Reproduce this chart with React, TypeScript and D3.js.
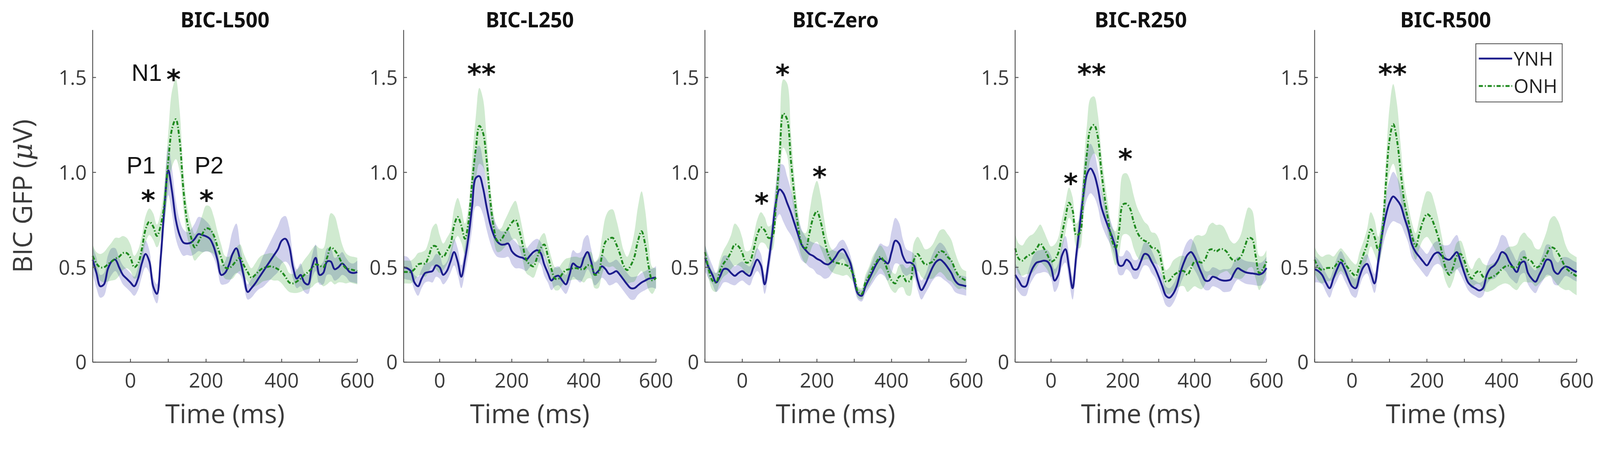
import { useEffect } from 'react'
import * as d3 from 'd3'

// ─── Data ─────────────────────────────────────────────────────────────────────

// sampling grid of the averaged GFP traces (ms)
const TIME = d3.range(-100, 601, 10)

const TITLES = ['BIC-L500', 'BIC-L250', 'BIC-Zero', 'BIC-R250', 'BIC-R500']
const GROUPS = ['YNH', 'ONH']
const Y_TICKS = [0, 0.5, 1.0, 1.5]
const X_TICKS = [0, 200, 400, 600]
const X_MINOR = [-100, 0, 100, 200, 300, 400, 500, 600]

const L500_YNH = [
  0.54, 0.47, 0.40, 0.41, 0.49, 0.53, 0.54, 0.50, 0.46, 0.44,
  0.42, 0.40, 0.44, 0.52, 0.57, 0.53, 0.40, 0.36, 0.55, 0.82,
  1.01, 0.90, 0.75, 0.67, 0.63, 0.625, 0.63, 0.65, 0.675, 0.67,
  0.663, 0.65, 0.61, 0.54, 0.46, 0.47, 0.51, 0.57, 0.60, 0.54,
  0.45, 0.37, 0.39, 0.415, 0.445, 0.475, 0.505, 0.535, 0.565, 0.595,
  0.64, 0.65, 0.61, 0.50, 0.44, 0.46, 0.42, 0.41, 0.50, 0.55,
  0.46, 0.47, 0.53, 0.53, 0.49, 0.50, 0.52, 0.50, 0.475, 0.47,
  0.475,
]
const L500_YNH_SEM = [
  0.07, 0.08, 0.06, 0.06, 0.07,
  0.07, 0.06, 0.05, 0.05, 0.05, 0.05,
  0.05, 0.06, 0.07, 0.07, 0.06, 0.05,
  0.05, 0.07, 0.1, 0.13, 0.12, 0.1, 0.08, 0.07, 0.06,
  0.07, 0.08, 0.09, 0.09, 0.08, 0.07, 0.06, 0.05, 0.05,
  0.06, 0.09, 0.12, 0.13, 0.08, 0.05, 0.04, 0.05, 0.05,
  0.06, 0.08, 0.09, 0.1, 0.11, 0.12, 0.12, 0.12, 0.1,
  0.06, 0.05, 0.06, 0.05, 0.05, 0.06, 0.07, 0.05, 0.06,
  0.07, 0.07, 0.06, 0.06, 0.06, 0.05, 0.05, 0.05, 0.06,
]
const L500_ONH = [
  0.56, 0.52, 0.50, 0.50, 0.515, 0.53, 0.545, 0.555, 0.575, 0.575,
  0.55, 0.50, 0.52, 0.595, 0.70, 0.74, 0.715, 0.665, 0.72, 0.84,
  1.06, 1.23, 1.28, 1.17, 0.91, 0.74, 0.66, 0.605, 0.635, 0.675,
  0.705, 0.70, 0.67, 0.61, 0.55, 0.50, 0.495, 0.51, 0.535, 0.55,
  0.51, 0.475, 0.445, 0.46, 0.48, 0.495, 0.50, 0.505, 0.50, 0.49,
  0.475, 0.45, 0.42, 0.415, 0.425, 0.44, 0.46, 0.475, 0.495, 0.515,
  0.51, 0.50, 0.55, 0.605, 0.59, 0.56, 0.52, 0.495, 0.49, 0.485,
  0.48,
]
const L500_ONH_SEM = [
  0.06, 0.06, 0.07, 0.08, 0.09,
  0.1, 0.11, 0.1, 0.09, 0.08, 0.07,
  0.06, 0.07, 0.07, 0.07, 0.07, 0.07,
  0.06, 0.07, 0.1, 0.15, 0.2, 0.21, 0.16, 0.1, 0.08,
  0.07, 0.07, 0.08, 0.1, 0.12, 0.12, 0.1, 0.08, 0.07,
  0.06, 0.06, 0.07, 0.07, 0.07, 0.06, 0.05, 0.05, 0.06,
  0.07, 0.07, 0.07, 0.07, 0.07, 0.06, 0.06, 0.06, 0.05,
  0.05, 0.06, 0.07, 0.08, 0.09, 0.1, 0.1, 0.09, 0.1,
  0.14, 0.18, 0.18, 0.14, 0.1, 0.08, 0.07, 0.07, 0.07,
]

const L250_YNH = [
  0.50, 0.495, 0.48, 0.42, 0.40, 0.44, 0.47, 0.475, 0.48, 0.51,
  0.50, 0.46, 0.48, 0.53, 0.58, 0.53, 0.45, 0.54, 0.66, 0.82,
  0.97, 0.98, 0.92, 0.82, 0.73, 0.67, 0.635, 0.62, 0.62, 0.625,
  0.585, 0.565, 0.555, 0.55, 0.54, 0.56, 0.58, 0.59, 0.575, 0.515,
  0.47, 0.43, 0.45, 0.455, 0.43, 0.41, 0.46, 0.52, 0.505, 0.50,
  0.55, 0.58, 0.53, 0.465, 0.48, 0.505, 0.49, 0.465, 0.47, 0.48,
  0.46, 0.435, 0.41, 0.39, 0.39, 0.405, 0.42, 0.43, 0.44, 0.443,
  0.446,
]
const L250_YNH_SEM = [
  0.06, 0.06, 0.05, 0.04, 0.05,
  0.05, 0.05, 0.05, 0.06, 0.06, 0.06,
  0.05, 0.05, 0.06, 0.07, 0.07, 0.06,
  0.07, 0.09, 0.12, 0.15, 0.16, 0.14, 0.12, 0.1, 0.09,
  0.08, 0.07, 0.07, 0.07, 0.07, 0.07, 0.06, 0.06, 0.06,
  0.06, 0.06, 0.06, 0.06, 0.06, 0.05, 0.05, 0.05, 0.05,
  0.05, 0.05, 0.06, 0.07, 0.07, 0.08, 0.1, 0.09, 0.07,
  0.06, 0.06, 0.06, 0.06, 0.06, 0.06, 0.06, 0.06, 0.06,
  0.06, 0.06, 0.06, 0.05, 0.05, 0.05, 0.05, 0.05, 0.06,
]
const L250_ONH = [
  0.475, 0.475, 0.475, 0.49, 0.515, 0.52, 0.52, 0.56, 0.61, 0.61,
  0.57, 0.555, 0.585, 0.62, 0.72, 0.765, 0.72, 0.65, 0.74, 0.95,
  1.12, 1.245, 1.21, 1.07, 0.86, 0.71, 0.64, 0.645, 0.675, 0.705,
  0.735, 0.75, 0.70, 0.62, 0.54, 0.515, 0.505, 0.55, 0.60, 0.62,
  0.56, 0.49, 0.44, 0.44, 0.465, 0.485, 0.49, 0.495, 0.495, 0.49,
  0.49, 0.51, 0.51, 0.46, 0.47, 0.56, 0.635, 0.65, 0.655, 0.62,
  0.57, 0.51, 0.485, 0.51, 0.555, 0.64, 0.69, 0.62, 0.50, 0.43,
  0.445,
]
const L250_ONH_SEM = [
  0.06, 0.06, 0.06, 0.06, 0.06,
  0.06, 0.07, 0.08, 0.1, 0.12, 0.1,
  0.07, 0.07, 0.07, 0.09, 0.1, 0.09,
  0.08, 0.08, 0.12, 0.17, 0.2, 0.18, 0.12, 0.08, 0.07,
  0.06, 0.06, 0.07, 0.08, 0.09, 0.1, 0.09, 0.08, 0.07,
  0.06, 0.06, 0.06, 0.06, 0.06, 0.06, 0.06, 0.06, 0.06,
  0.06, 0.06, 0.06, 0.06, 0.06, 0.06, 0.07, 0.07, 0.07,
  0.07, 0.08, 0.1, 0.13, 0.15, 0.15, 0.13, 0.1, 0.08,
  0.07, 0.09, 0.13, 0.18, 0.21, 0.18, 0.12, 0.07, 0.05,
]

const ZERO_YNH = [
  0.55, 0.50, 0.46, 0.42, 0.45, 0.49, 0.49, 0.47, 0.455, 0.47,
  0.48, 0.465, 0.455, 0.50, 0.54, 0.51, 0.41, 0.52, 0.67, 0.84,
  0.91, 0.89, 0.84, 0.79, 0.73, 0.67, 0.615, 0.59, 0.57, 0.56,
  0.545, 0.535, 0.52, 0.515, 0.53, 0.555, 0.585, 0.595, 0.565, 0.52,
  0.43, 0.36, 0.35, 0.40, 0.44, 0.48, 0.52, 0.545, 0.535, 0.52,
  0.58, 0.64, 0.625, 0.56, 0.525, 0.525, 0.51, 0.43, 0.38, 0.41,
  0.455, 0.50, 0.53, 0.54, 0.525, 0.50, 0.47, 0.43, 0.41, 0.405,
  0.40,
]
const ZERO_YNH_SEM = [
  0.07, 0.06, 0.05, 0.05, 0.06,
  0.07, 0.07, 0.06, 0.05, 0.05, 0.05,
  0.05, 0.05, 0.05, 0.06, 0.06, 0.05,
  0.06, 0.08, 0.1, 0.13, 0.15, 0.14, 0.12, 0.1, 0.09,
  0.08, 0.07, 0.07, 0.07, 0.08, 0.08, 0.08, 0.07, 0.06,
  0.05, 0.05, 0.05, 0.05, 0.04, 0.04, 0.03, 0.03, 0.04,
  0.05, 0.06, 0.07, 0.08, 0.08, 0.09, 0.11, 0.12, 0.11,
  0.09, 0.07, 0.06, 0.06, 0.05, 0.05, 0.05, 0.06, 0.07,
  0.08, 0.09, 0.09, 0.08, 0.07, 0.06, 0.05, 0.05, 0.05,
]
const ZERO_ONH = [
  0.58, 0.49, 0.43, 0.42, 0.48, 0.52, 0.545, 0.58, 0.62, 0.61,
  0.575, 0.525, 0.53, 0.59, 0.67, 0.71, 0.695, 0.655, 0.66, 0.83,
  1.08, 1.31, 1.28, 1.07, 0.87, 0.71, 0.62, 0.60, 0.68, 0.76,
  0.795, 0.74, 0.65, 0.57, 0.535, 0.525, 0.52, 0.515, 0.51, 0.49,
  0.45, 0.37, 0.36, 0.42, 0.455, 0.50, 0.53, 0.555, 0.53, 0.48,
  0.43, 0.415, 0.45, 0.455, 0.425, 0.43, 0.54, 0.57, 0.54, 0.515,
  0.52, 0.53, 0.56, 0.585, 0.58, 0.555, 0.535, 0.49, 0.455, 0.44,
  0.43,
]
const ZERO_ONH_SEM = [
  0.05, 0.05, 0.05, 0.05, 0.06,
  0.07, 0.08, 0.09, 0.11, 0.1, 0.08,
  0.06, 0.06, 0.07, 0.08, 0.08, 0.07,
  0.06, 0.07, 0.09, 0.13, 0.18, 0.19, 0.15, 0.1, 0.08,
  0.07, 0.08, 0.11, 0.14, 0.16, 0.14, 0.1, 0.07, 0.06,
  0.06, 0.06, 0.06, 0.05, 0.05, 0.04, 0.03, 0.03, 0.04,
  0.05, 0.06, 0.06, 0.06, 0.06, 0.06, 0.05, 0.05, 0.06,
  0.06, 0.07, 0.08, 0.09, 0.09, 0.09, 0.08, 0.08, 0.09,
  0.1, 0.11, 0.12, 0.12, 0.11, 0.09, 0.07, 0.05, 0.05,
]

const R250_YNH = [
  0.46, 0.43, 0.40, 0.40, 0.455, 0.50, 0.525, 0.53, 0.535, 0.53,
  0.50, 0.43, 0.46, 0.56, 0.595, 0.50, 0.39, 0.56, 0.72, 0.88,
  0.99, 1.02, 0.99, 0.92, 0.82, 0.76, 0.71, 0.66, 0.60, 0.51,
  0.51, 0.54, 0.525, 0.49, 0.49, 0.53, 0.57, 0.565, 0.53, 0.495,
  0.45, 0.40, 0.35, 0.34, 0.36, 0.40, 0.47, 0.525, 0.565, 0.58,
  0.555, 0.51, 0.465, 0.43, 0.43, 0.45, 0.445, 0.435, 0.43, 0.43,
  0.435, 0.47, 0.495, 0.485, 0.475, 0.47, 0.468, 0.465, 0.462, 0.47,
  0.496,
]
const R250_YNH_SEM = [
  0.06, 0.06, 0.05, 0.05, 0.05,
  0.06, 0.06, 0.06, 0.06, 0.06, 0.06,
  0.06, 0.06, 0.06, 0.07, 0.07, 0.06,
  0.07, 0.09, 0.11, 0.13, 0.13, 0.12, 0.1, 0.09, 0.08,
  0.07, 0.06, 0.06, 0.05, 0.05, 0.05, 0.05, 0.05, 0.05,
  0.05, 0.06, 0.06, 0.06, 0.05, 0.05, 0.05, 0.05, 0.05,
  0.05, 0.05, 0.06, 0.07, 0.07, 0.07, 0.07, 0.06, 0.06,
  0.05, 0.05, 0.05, 0.05, 0.05, 0.06, 0.06, 0.06, 0.06,
  0.06, 0.06, 0.06, 0.06, 0.06, 0.06, 0.06, 0.06, 0.06,
]
const R250_ONH = [
  0.60, 0.545, 0.535, 0.553, 0.565, 0.575, 0.60, 0.625, 0.60, 0.565,
  0.53, 0.54, 0.575, 0.67, 0.76, 0.84, 0.80, 0.67, 0.68, 0.90,
  1.10, 1.23, 1.25, 1.19, 1.01, 0.86, 0.74, 0.64, 0.60, 0.70,
  0.83, 0.835, 0.81, 0.74, 0.685, 0.655, 0.64, 0.632, 0.605, 0.60,
  0.58, 0.50, 0.425, 0.43, 0.455, 0.47, 0.48, 0.48, 0.46, 0.495,
  0.53, 0.53, 0.525, 0.545, 0.59, 0.595, 0.583, 0.595, 0.595, 0.58,
  0.55, 0.535, 0.54, 0.56, 0.61, 0.655, 0.65, 0.56, 0.47, 0.49,
  0.53,
]
const R250_ONH_SEM = [
  0.08, 0.08, 0.08, 0.09, 0.1,
  0.1, 0.1, 0.1, 0.09, 0.08, 0.08,
  0.08, 0.08, 0.08, 0.08, 0.08, 0.07,
  0.06, 0.08, 0.12, 0.15, 0.16, 0.15, 0.12, 0.1, 0.09,
  0.08, 0.07, 0.09, 0.13, 0.16, 0.16, 0.15, 0.14, 0.13,
  0.12, 0.1, 0.09, 0.08, 0.08, 0.07, 0.06, 0.06, 0.07,
  0.08, 0.08, 0.08, 0.08, 0.09, 0.11, 0.13, 0.14, 0.14,
  0.13, 0.13, 0.14, 0.14, 0.13, 0.12, 0.1, 0.09, 0.09,
  0.1, 0.12, 0.15, 0.16, 0.15, 0.12, 0.09, 0.07, 0.06,
]

const R500_YNH = [
  0.49, 0.48, 0.46, 0.42, 0.39, 0.44, 0.49, 0.525, 0.49, 0.44,
  0.40, 0.39, 0.45, 0.50, 0.518, 0.47, 0.415, 0.53, 0.67, 0.77,
  0.84, 0.873, 0.855, 0.825, 0.76, 0.70, 0.62, 0.58, 0.555, 0.53,
  0.51, 0.54, 0.57, 0.578, 0.56, 0.545, 0.54, 0.56, 0.58, 0.53,
  0.47, 0.42, 0.40, 0.388, 0.378, 0.39, 0.46, 0.495, 0.51, 0.54,
  0.58, 0.57, 0.53, 0.50, 0.475, 0.52, 0.53, 0.47, 0.44, 0.424,
  0.46, 0.50, 0.54, 0.535, 0.48, 0.465, 0.49, 0.504, 0.498, 0.485,
  0.475,
]
const R500_YNH_SEM = [
  0.07, 0.06, 0.05, 0.05, 0.05,
  0.05, 0.06, 0.06, 0.06, 0.05, 0.05,
  0.05, 0.05, 0.05, 0.05, 0.05, 0.05,
  0.06, 0.08, 0.1, 0.12, 0.13, 0.12, 0.1, 0.08, 0.07,
  0.07, 0.06, 0.06, 0.06, 0.06, 0.06, 0.06, 0.06, 0.06,
  0.07, 0.08, 0.09, 0.09, 0.07, 0.05, 0.04, 0.04, 0.04,
  0.04, 0.04, 0.05, 0.06, 0.07, 0.08, 0.09, 0.09, 0.08,
  0.07, 0.06, 0.06, 0.06, 0.06, 0.06, 0.06, 0.06, 0.07,
  0.08, 0.08, 0.07, 0.06, 0.06, 0.05, 0.05, 0.05, 0.05,
]
const R500_ONH = [
  0.54, 0.50, 0.485, 0.495, 0.497, 0.497, 0.52, 0.54, 0.52, 0.495,
  0.47, 0.455, 0.51, 0.565, 0.62, 0.70, 0.66, 0.59, 0.68, 0.93,
  1.17, 1.255, 1.17, 1.00, 0.84, 0.75, 0.665, 0.61, 0.68, 0.745,
  0.78, 0.765, 0.72, 0.66, 0.58, 0.495, 0.46, 0.50, 0.56, 0.57,
  0.535, 0.47, 0.44, 0.47, 0.48, 0.45, 0.44, 0.445, 0.455, 0.47,
  0.49, 0.505, 0.508, 0.50, 0.50, 0.535, 0.553, 0.54, 0.53, 0.50,
  0.505, 0.535, 0.57, 0.605, 0.60, 0.575, 0.54, 0.50, 0.48, 0.465,
  0.453,
]
const R500_ONH_SEM = [
  0.07, 0.07, 0.07, 0.07, 0.07,
  0.06, 0.06, 0.06, 0.06, 0.06, 0.06,
  0.06, 0.07, 0.07, 0.08, 0.09, 0.09,
  0.07, 0.08, 0.12, 0.17, 0.21, 0.19, 0.14, 0.1, 0.08,
  0.07, 0.07, 0.08, 0.1, 0.12, 0.13, 0.12, 0.1, 0.08,
  0.07, 0.07, 0.07, 0.07, 0.07, 0.06, 0.05, 0.05, 0.06,
  0.07, 0.07, 0.07, 0.07, 0.07, 0.07, 0.08, 0.09, 0.1,
  0.11, 0.12, 0.13, 0.13, 0.12, 0.11, 0.1, 0.09, 0.1,
  0.12, 0.15, 0.17, 0.17, 0.15, 0.12, 0.1, 0.1, 0.1,
]

const PANELS = [
  { title: TITLES[0], ynh: L500_YNH, ynhSem: L500_YNH_SEM, onh: L500_ONH, onhSem: L500_ONH_SEM },
  { title: TITLES[1], ynh: L250_YNH, ynhSem: L250_YNH_SEM, onh: L250_ONH, onhSem: L250_ONH_SEM },
  { title: TITLES[2], ynh: ZERO_YNH, ynhSem: ZERO_YNH_SEM, onh: ZERO_ONH, onhSem: ZERO_ONH_SEM },
  { title: TITLES[3], ynh: R250_YNH, ynhSem: R250_YNH_SEM, onh: R250_ONH, onhSem: R250_ONH_SEM },
  { title: TITLES[4], ynh: R500_YNH, ynhSem: R500_YNH_SEM, onh: R500_ONH, onhSem: R500_ONH_SEM },
]

// component labels and significance stars, anchored in data units (ms, µV)
const MARKS: { panel: number; text: string; t: number; v: number; star: boolean }[] = [
  { panel: 0, text: 'N1', t: 43, v: 1.527, star: false },
  { panel: 0, text: '*', t: 114, v: 1.523, star: true },
  { panel: 0, text: 'P1', t: 28, v: 1.04, star: false },
  { panel: 0, text: '*', t: 47, v: 0.887, star: true },
  { panel: 0, text: 'P2', t: 208, v: 1.04, star: false },
  { panel: 0, text: '*', t: 201, v: 0.887, star: true },
  { panel: 1, text: '**', t: 116, v: 1.553, star: true },
  { panel: 2, text: '*', t: 108, v: 1.55, star: true },
  { panel: 2, text: '*', t: 52, v: 0.873, star: true },
  { panel: 2, text: '*', t: 207, v: 1.01, star: true },
  { panel: 3, text: '**', t: 113, v: 1.553, star: true },
  { panel: 3, text: '*', t: 55, v: 0.975, star: true },
  { panel: 3, text: '*', t: 207, v: 1.105, star: true },
  { panel: 4, text: '**', t: 108, v: 1.553, star: true },
]

// ─── Layout ───────────────────────────────────────────────────────────────────

const W = 4317
const H = 1162
const PANEL_X: [number, number][] = [[250, 964], [1089, 1770], [1902, 2607], [2739, 3417], [3547, 4254]]
const TITLE_W = [240, 238, 233, 249, 245]
const TOP = 81
const BOTTOM = 977
const FONT = "'Open Sans', 'DejaVu Sans', sans-serif"
const BOLD_FONT = "'Noto Sans', 'DejaVu Sans', sans-serif"
const AXIS = '#555555'
const TEXT = '#3a3a3a'
const BLUE = '#1c1c8c'
const GREEN = '#1f8a1f'
const DASH = '11,5,3,5'

const y = d3.scaleLinear().domain([0, 1.75]).range([BOTTOM, TOP])
const curve = d3.curveCatmullRom.alpha(0.5)

// ─── Panel ────────────────────────────────────────────────────────────────────

function Panel({ i }: { i: number }) {
  const p = PANELS[i]
  const [x0, x1] = PANEL_X[i]
  const x = d3.scaleLinear().domain([-100, 600]).range([x0, x1])

  const band = (m: number[], s: number[]) =>
    d3.area<number>()
      .x((_, k) => x(TIME[k]))
      .y0((d, k) => y(d - s[k]))
      .y1((d, k) => y(d + s[k]))
      .curve(curve)(m) ?? ''
  const line = d3.line<number>()
    .x((_, k) => x(TIME[k]))
    .y((d) => y(d))
    .curve(curve)

  const cx = (x0 + x1) / 2
  return (
    <g>
      <path d={band(p.ynh, p.ynhSem)} fill="#2a2aa8" fillOpacity={0.22} />
      <path d={band(p.onh, p.onhSem)} fill="#149614" fillOpacity={0.2} />
      <path d={line(p.ynh) ?? ''} fill="none" stroke={BLUE} strokeWidth={5} />
      <path d={line(p.onh) ?? ''} fill="none" stroke={GREEN} strokeWidth={5} strokeDasharray={DASH} />

      {/* axes */}
      <line x1={x0} x2={x0} y1={TOP} y2={BOTTOM} stroke={AXIS} strokeWidth={2.5} />
      <line x1={x0} x2={x1} y1={BOTTOM} y2={BOTTOM} stroke={AXIS} strokeWidth={2.5} />
      {X_MINOR.map((t) => (
        <line key={t} x1={x(t)} x2={x(t)} y1={BOTTOM} y2={BOTTOM - 9} stroke={AXIS} strokeWidth={2.5} />
      ))}
      {Y_TICKS.map((v) => (
        <g key={v}>
          <line x1={x0} x2={x0 + 9} y1={y(v)} y2={y(v)} stroke={AXIS} strokeWidth={2.5} />
          <text x={x0 - 16} y={y(v)} dy="0.36em" textAnchor="end" fontSize={54} fill={TEXT} fontFamily={FONT}>
            {v === 0 ? '0' : v.toFixed(1)}
          </text>
        </g>
      ))}
      {X_TICKS.map((t) => (
        <text key={t} x={x(t)} y={1046} textAnchor="middle" fontSize={54} fill={TEXT} fontFamily={FONT}>
          {t}
        </text>
      ))}
      <text x={cx} y={1141} textAnchor="middle" fontSize={71} fill={TEXT} fontFamily={FONT}>
        Time (ms)
      </text>
      <text x={cx} y={74} textAnchor="middle" fontSize={56} fontWeight="bold" fill="#111" fontFamily={BOLD_FONT}
        textLength={TITLE_W[i]} lengthAdjust="spacingAndGlyphs">
        {p.title}
      </text>

      {MARKS.filter((m) => m.panel === i).map((m, k) =>
        m.star ? (
          <text key={k} x={x(m.t)} y={y(m.v)} dy="0.57em" textAnchor="middle" fontSize={74}
            fontWeight="bold" fill="#111" fontFamily="'DejaVu Sans', sans-serif">
            {m.text}
          </text>
        ) : (
          <text key={k} x={x(m.t)} y={y(m.v)} dy="0.36em" textAnchor="middle" fontSize={64}
            fill="#111" fontFamily="'Liberation Sans', Arial, sans-serif">
            {m.text}
          </text>
        ),
      )}
    </g>
  )
}

// ─── App ──────────────────────────────────────────────────────────────────────

export default function App() {
  useEffect(() => {
    document.body.style.margin = '0'
    document.body.style.overflow = 'hidden'
  }, [])

  const lx = 3982, ly = 118
  return (
    <svg viewBox={`0 0 ${W} ${H}`} preserveAspectRatio="xMinYMin meet"
      style={{ position: 'fixed', left: 0, top: 0, width: '100vw', height: '100vh', background: '#fff' }}>
      {PANELS.map((_, i) => <Panel key={i} i={i} />)}

      <text transform={`translate(86,${(TOP + BOTTOM) / 2}) rotate(-90)`} textAnchor="middle"
        fontSize={72} fill={TEXT} fontFamily={FONT}>
        BIC GFP (<tspan fontStyle="italic" fontFamily="'DejaVu Serif', serif">μ</tspan>V)
      </text>

      {/* legend */}
      <rect x={lx} y={ly} width={233} height={157} fill="#fff" stroke="#444" strokeWidth={2} />
      {GROUPS.map((g, k) => {
        const yy = ly + 40 + k * 74
        return (
          <g key={g}>
            <line x1={lx + 8} x2={lx + 98} y1={yy} y2={yy}
              stroke={k === 0 ? BLUE : GREEN} strokeWidth={5}
              strokeDasharray={k === 0 ? undefined : DASH} />
            <text x={lx + 102} y={yy} dy="0.36em" fontSize={52} fill="#222" fontFamily={FONT}>{g}</text>
          </g>
        )
      })}
    </svg>
  )
}
